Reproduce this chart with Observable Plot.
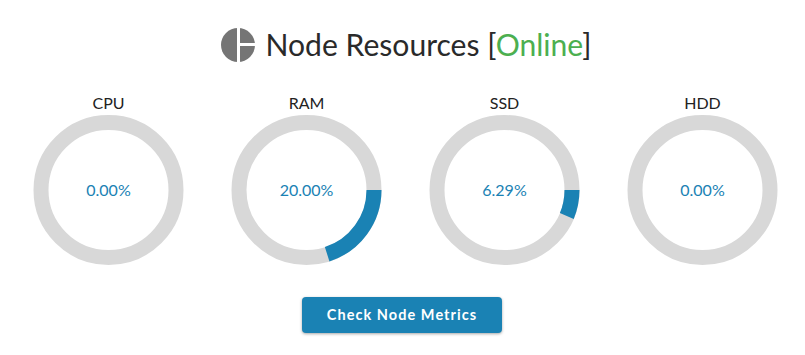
<!DOCTYPE html>
<html>
<head>
<meta charset="utf-8">
<script src="https://cdn.jsdelivr.net/npm/d3@7"></script>
<script src="https://cdn.jsdelivr.net/npm/@observablehq/plot@0.6"></script>
<style>
  html, body { margin: 0; padding: 0; background: #fff; }
  body { width: 805px; height: 355px; position: relative; overflow: hidden; font-family: Lato, sans-serif; }
  #title { position: absolute; left: 265.5px; top: 23px; font-size: 30.1px; line-height: 42px; color: #2a2a2a; white-space: nowrap; font-weight: 400; }
  #title span { color: #4caf50; }
  #icon { position: absolute; left: 221px; top: 28px; }
  #chart { position: absolute; left: 0; top: 90px; }
  #chart svg { display: block; }
  #btn { position: absolute; left: 302px; top: 297px; width: 200px; height: 36px; line-height: 36px; text-align: center; background: #1a82b4; color: #fff; font-weight: 700; font-size: 14.5px; letter-spacing: 1.05px; border-radius: 4px; box-shadow: 0 1px 3px rgba(0,0,0,.35); }
</style>
</head>
<body>
<svg id="icon" width="34" height="34" viewBox="0 0 34 34">
  <circle cx="17" cy="17" r="17" fill="#757575"></circle>
  <rect x="16" y="0" width="3" height="34" fill="#fff"></rect>
  <rect x="19" y="15" width="15" height="3" fill="#fff"></rect>
</svg>
<div id="title">Node Resources [<span>Online</span>]</div>
<div id="chart"></div>
<div id="btn">Check Node Metrics</div>
<script>
const names = ["CPU", "RAM", "SSD", "HDD"];
const usedPercent = [0, 20, 6.29, 0];
const percentLabels = ["0.00%", "20.00%", "6.29%", "0.00%"];

const ringRadius = 67.5;
const circumference = 2 * Math.PI * ringRadius;
const rows = names.map((name, i) => ({name, used: usedPercent[i], label: percentLabels[i]}));

const plot = Plot.plot({
  width: 805,
  height: 200,
  marginTop: 0,
  marginBottom: 1,
  marginLeft: 107.5,
  marginRight: 103.5,
  axis: null,
  x: {type: "point", domain: names, padding: 0},
  style: {fontFamily: "Lato, sans-serif", background: "transparent"},
  marks: [
    Plot.dot(rows, {x: "name", r: ringRadius, stroke: "#d8d8d8", strokeWidth: 15, fill: "none"}),
    ...rows.filter(d => d.used > 0).map(d =>
      Plot.dot([d], {
        x: "name",
        r: ringRadius,
        stroke: "#1a82b4",
        strokeWidth: 15,
        fill: "none",
        strokeDasharray: `${circumference * d.used / 100} ${circumference}`
      })
    ),
    Plot.text(rows, {x: "name", text: "label", fill: "#1a82b4", fontSize: 16, dy: 1}),
    Plot.text(rows, {x: "name", text: "name", fill: "#222", fontSize: 16, dy: -86})
  ]
});
document.getElementById("chart").appendChild(plot);
</script>
</body>
</html>
